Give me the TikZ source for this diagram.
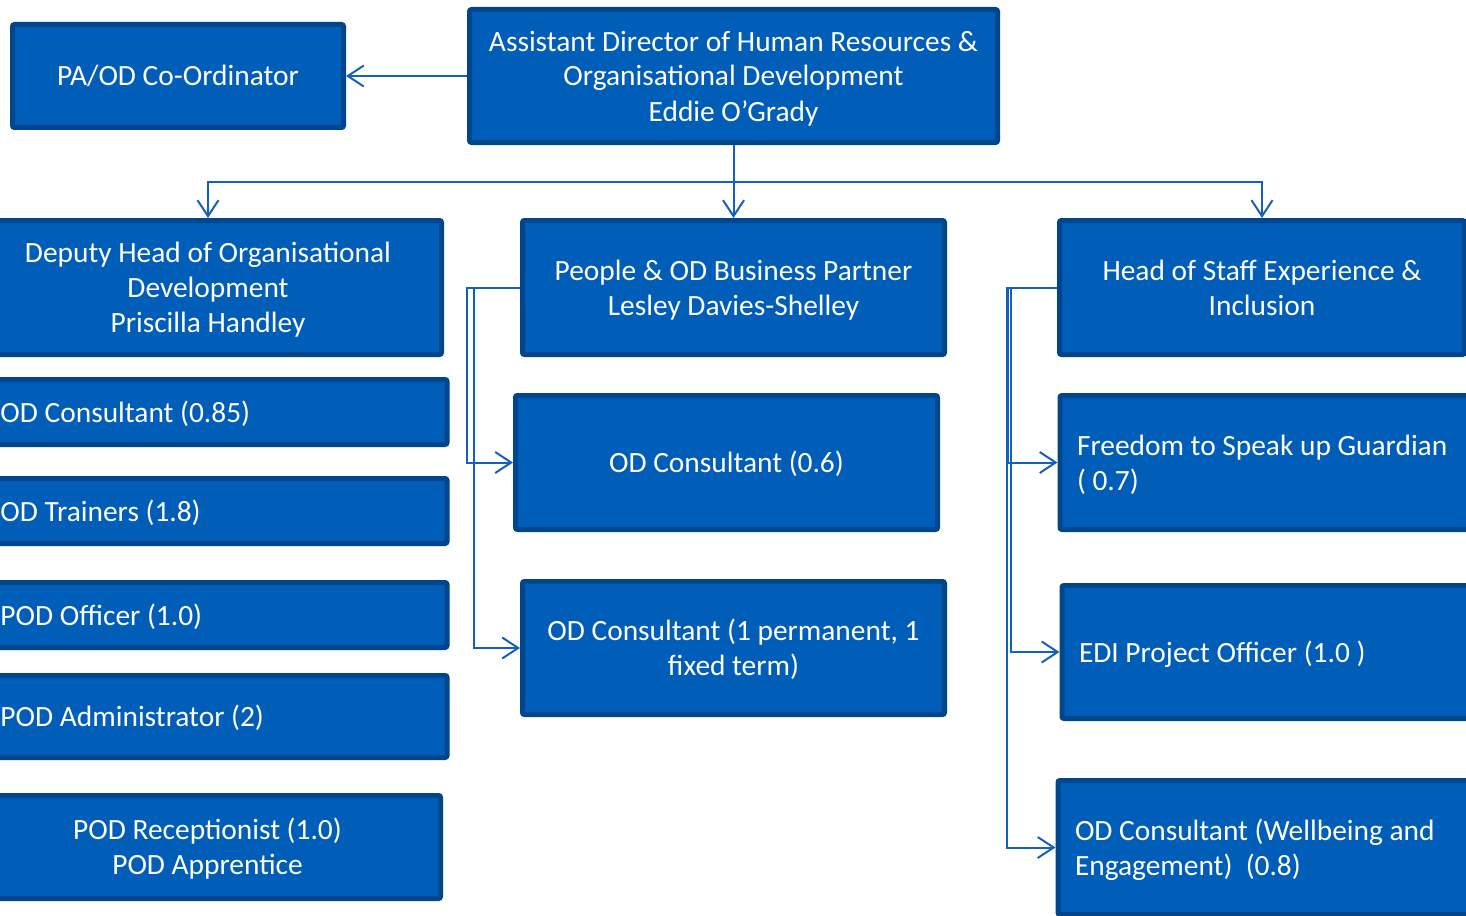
\documentclass[tikz,border=0pt]{standalone}
\usepackage{fontspec}
\setmainfont{Carlito}
\usetikzlibrary{arrows.meta}
\definecolor{nhsblue}{HTML}{005EB8}
\definecolor{boxedge}{HTML}{00468C}
\definecolor{linkcol}{HTML}{1560BD}
% fixed line ascent/descent so every box centres its text the same way
\newcommand{\topstrut}{\rule{0pt}{14pt}}
\newcommand{\botstrut}{\rule[-4pt]{0pt}{0pt}}
\newcommand{\boxtext}[1]{\topstrut#1\botstrut}
\tikzset{
  box/.style={draw=boxedge, fill=nhsblue, line width=2.5pt, text=white,
    font=\fontsize{14.7}{17.5}\selectfont, align=center, inner sep=0pt,
    rounded corners=1pt},
  leftbox/.style={box, anchor=west, align=flush left, inner xsep=12.75pt,
    text width=210.5pt, minimum height=32.5pt},
  rightbox/.style={box, anchor=west, align=flush left, inner xsep=8.5pt,
    text width=210pt, minimum height=67pt},
  link/.style={draw=linkcol, line width=1pt},
  arr/.style={link, -{Straight Barb[length=8pt,width=10.5pt,line width=1pt]}},
}
\begin{document}
\begin{tikzpicture}[x=0.5pt,y=-0.5pt]
\useasboundingbox (0,0) rectangle (1466,915);
\clip (0,0) rectangle (1466,915);

% top level
\node[box, minimum width=264pt, minimum height=66.5pt] (top) at (733.5,76)
  {\boxtext{Assistant Director of Human Resources \&\\Organisational Development\\Eddie O’Grady}};
\node[box, minimum width=165.5pt, minimum height=51.5pt] (pa) at (178,76)
  {\boxtext{PA/OD Co-Ordinator}};

% second level
\node[box, minimum width=233.5pt, minimum height=67pt] (dep) at (208,287.5)
  {\boxtext{Deputy Head of Organisational\\Development\\Priscilla Handley}};
\node[box, minimum width=211pt, minimum height=67pt] (bp) at (733.5,287.5)
  {\boxtext{People \& OD Business Partner\\Lesley Davies-Shelley}};
\node[box, minimum width=202.5pt, minimum height=67pt] (head) at (1262,287.5)
  {\boxtext{Head of Staff Experience \&\\Inclusion}};

% organisational development team
\node[leftbox] (oc085) at (-27.5,412) {\boxtext{OD Consultant (0.85)}};
\node[leftbox] (train) at (-27.5,511) {\boxtext{OD Trainers (1.8)}};
\node[leftbox] (offc) at (-27.5,615) {\boxtext{POD Officer (1.0)}};
\node[leftbox, minimum height=41pt] (admin) at (-27.5,716.5) {\boxtext{POD Administrator (2)}};
\node[box, minimum width=233pt, minimum height=51.5pt] (recep) at (207.5,847)
  {\boxtext{POD Receptionist (1.0)\\POD Apprentice}};

% business partner team
\node[box, minimum width=211pt, minimum height=67pt] (oc06) at (726.5,462.5)
  {\boxtext{OD Consultant (0.6)}};
\node[box, minimum width=211pt, minimum height=66.5pt] (ocperm) at (733.5,648)
  {\boxtext{OD Consultant (1 permanent, 1\\fixed term)}};

% staff experience team
\node[rightbox] (free) at (1057.5,462.5)
  {\boxtext{Freedom to Speak up Guardian\\( 0.7)}};
\node[rightbox, minimum height=66.5pt] (edi) at (1059.5,652)
  {\boxtext{EDI Project Officer (1.0 )}};
\node[rightbox] (odw) at (1055.5,847.5)
  {\boxtext{OD Consultant (Wellbeing and\\Engagement)\ \ (0.8)}};

% connectors
\coordinate (bar) at (0,182);
\draw[arr] (top.west) -- (pa.east);
\draw[arr] (top.south) -- (bp.north);
\draw[arr] (top.south) -- (top.south |- bar) -| (dep.north);
\draw[arr] (top.south) -- (top.south |- bar) -| (head.north);

\draw[arr] (bp.west) -- ++(-53,0) |- (oc06.west);
\draw[arr] (bp.west) -- ++(-46,0) |- (ocperm.west);

\draw[arr] (head.west) -- ++(-49,0) |- (free.west);
\draw[arr] (head.west) -- ++(-46,0) |- (edi.west);
\draw[arr] (head.west) -- ++(-50,0) |- (odw.west);
\end{tikzpicture}
\end{document}
